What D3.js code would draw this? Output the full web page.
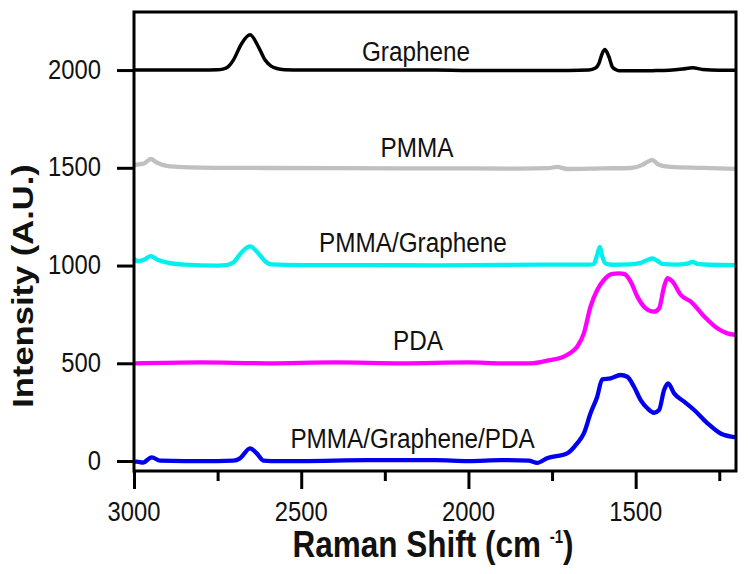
<!DOCTYPE html>
<html>
<head>
<meta charset="utf-8">
<script src="https://cdn.jsdelivr.net/npm/d3@7"></script>
<style>
  html, body { margin: 0; padding: 0; background: #fff; }
  svg { display: block; }
  text { font-family: "Liberation Sans", Arial, sans-serif; }
</style>
</head>
<body>
<svg id="chart" width="748" height="574"></svg>
<script>
// ---- data ----
const yTicks = [0, 500, 1000, 1500, 2000];
const xMajorTicks = [3000, 2500, 2000, 1500];
const xMinorTicks = [2750, 2250, 1750, 1250];

const grapheneX = [3000, 2900, 2800, 2750, 2735, 2720, 2703, 2678, 2653, 2628, 2608, 2590, 2573, 2550, 2500, 2400, 2300, 2200, 2100, 2000, 1900, 1800, 1700, 1640, 1620, 1610, 1600, 1592, 1580, 1570, 1560, 1550, 1500, 1450, 1400, 1360, 1330, 1300, 1250, 1200];
const grapheneY = [2000, 2000, 2000, 2001, 2005, 2015, 2051, 2136, 2180, 2119, 2051, 2020, 2008, 2002, 2000, 2000, 2000, 2000, 2000, 1998, 1998, 1998, 1998, 2000, 2010, 2034, 2085, 2105, 2068, 2017, 2003, 1997, 1996, 1997, 1999, 2005, 2012, 2003, 1999, 1999];

const pmmaX = [3000, 2985, 2970, 2950, 2932, 2902, 2870, 2832, 2750, 2600, 2400, 2200, 2000, 1850, 1760, 1735, 1705, 1600, 1515, 1480, 1465, 1450, 1435, 1420, 1395, 1300, 1200];
const pmmaY = [1515, 1518, 1522, 1545, 1527, 1510, 1505, 1502, 1500, 1499, 1498, 1497, 1497, 1496, 1498, 1505, 1494, 1497, 1499, 1515, 1530, 1540, 1520, 1510, 1505, 1500, 1494];

const pmmaGX = [3000, 2990, 2970, 2950, 2930, 2900, 2850, 2750, 2720, 2703, 2678, 2653, 2628, 2608, 2590, 2500, 2300, 2100, 1900, 1700, 1640, 1625, 1615, 1607, 1600, 1590, 1570, 1520, 1485, 1465, 1450, 1435, 1420, 1380, 1345, 1330, 1315, 1280, 1200];
const pmmaGY = [1035, 1022, 1030, 1048, 1030, 1015, 1005, 1000, 1004, 1015, 1068, 1098, 1062, 1022, 1006, 1002, 1002, 1001, 1003, 1005, 1005, 1008, 1056, 1095, 1048, 1010, 1004, 1006, 1014, 1028, 1036, 1024, 1008, 1005, 1010, 1019, 1008, 1004, 1002];

const pdaX = [3000, 2800, 2600, 2400, 2200, 2000, 1900, 1814, 1760, 1715, 1690, 1675, 1655, 1635, 1615, 1595, 1570, 1550, 1535, 1515, 1495, 1470, 1445, 1430, 1415, 1405, 1390, 1365, 1335, 1295, 1256, 1226, 1200];
const pdaY = [500, 505, 500, 505, 500, 505, 500, 500, 515, 534, 560, 585, 653, 790, 875, 926, 957, 960, 957, 918, 841, 781, 764, 781, 892, 935, 918, 850, 815, 739, 679, 653, 645];

const allX = [3000, 2992, 2973, 2947, 2922, 2850, 2750, 2703, 2683, 2653, 2633, 2613, 2590, 2500, 2300, 2100, 2000, 1900, 1820, 1794, 1765, 1705, 1675, 1655, 1635, 1615, 1600, 1575, 1545, 1525, 1505, 1485, 1465, 1445, 1430, 1415, 1403, 1385, 1355, 1325, 1285, 1246, 1200];
const allY = [-5, -3, -8, 19, 2, 0, 0, 2, 14, 65, 39, 2, 0, 0, 5, 5, 0, 5, 2, -9, 14, 39, 90, 141, 244, 329, 418, 423, 440, 431, 380, 312, 270, 247, 261, 363, 397, 346, 304, 261, 193, 141, 121];

const seriesNames = ["Graphene", "PMMA", "PMMA/Graphene", "PDA", "PMMA/Graphene/PDA"];
const seriesColors = ["#000000", "#c0c0c0", "#00f0f0", "#ff00ff", "#0000ee"];
// label anchors: [wavenumber, intensity]
const labelWave = [2157, 2154, 2166, 2151, 2167];
const labelValue = [2044, 1555, 1069, 568, 66];

// ---- layout ----
const svg = d3.select("#chart");
const L = 134, R = 736, T = 12, B = 471;
const SY = 1.17; // vertical stretch of all lettering in the reference
const x = d3.scaleLinear().domain([3000, 1200]).range([L, R]);
const y = d3.scaleLinear().domain([-51, 2297]).range([B, T]);

const series = [
  {x: grapheneX, y: grapheneY, w: 3.5},
  {x: pmmaX, y: pmmaY, w: 4.3},
  {x: pmmaGX, y: pmmaGY, w: 4.3},
  {x: pdaX, y: pdaY, w: 4.3},
  {x: allX, y: allY, w: 4.3}
];

const line = d3.line()
  .x(d => x(d[0])).y(d => y(d[1]))
  .curve(d3.curveMonotoneX);

svg.append("defs").append("clipPath").attr("id", "clip")
  .append("rect").attr("x", L).attr("y", T).attr("width", R - L).attr("height", B - T);

const g = svg.append("g").attr("clip-path", "url(#clip)");
series.forEach((s, i) => {
  const pts = s.x.map((xv, j) => [xv, s.y[j]]);
  g.append("path").datum(pts)
    .attr("d", line)
    .attr("fill", "none")
    .attr("stroke", seriesColors[i])
    .attr("stroke-width", s.w)
    .attr("stroke-linejoin", "round")
    .attr("stroke-linecap", "round");
});

function stretchedText(px, py, str, size, anchor, weight) {
  return svg.append("text")
    .attr("transform", `translate(${px},${py}) scale(1,${SY})`)
    .attr("text-anchor", anchor)
    .attr("font-size", size)
    .attr("font-weight", weight || "normal")
    .attr("fill", "#111")
    .text(str);
}

// series labels
seriesNames.forEach((n, i) => {
  stretchedText(x(labelWave[i]), y(labelValue[i]), n, 24.3, "middle");
});

// axes (ticks drawn by d3, labels placed with the same scales)
const yAxis = d3.axisLeft(y).tickValues(yTicks).tickSize(17).tickFormat("");
const ya = svg.append("g").attr("transform", `translate(${L},0)`).call(yAxis);
const xAxis = d3.axisBottom(x).tickValues(xMajorTicks).tickSize(18).tickFormat("");
const xa = svg.append("g").attr("transform", `translate(0,${B})`).call(xAxis);
const xAxisMinor = d3.axisBottom(x).tickValues(xMinorTicks).tickSize(10).tickFormat("");
const xm = svg.append("g").attr("transform", `translate(0,${B})`).call(xAxisMinor);

[ya, xa, xm].forEach(a => {
  a.select(".domain").remove();
  a.selectAll(".tick line").attr("stroke", "#000").attr("stroke-width", 3);
});

yTicks.forEach(v => stretchedText(101, y(v) + 8.5, String(v), 23.8, "end"));
xMajorTicks.forEach(v => stretchedText(x(v), 521, String(v), 23.8, "middle"));

// frame
svg.append("rect").attr("x", L).attr("y", T).attr("width", R - L).attr("height", B - T)
  .attr("fill", "none").attr("stroke", "#000").attr("stroke-width", 3);

// axis titles
svg.append("text")
  .attr("transform", `translate(33,286) scale(1,${SY}) rotate(-90)`)
  .attr("text-anchor", "middle")
  .attr("font-size", 29.5).attr("font-weight", "bold").attr("fill", "#111")
  .text("Intensity (A.U.)");

const xt = svg.append("text")
  .attr("transform", `translate(433,557) scale(1,${SY})`)
  .attr("text-anchor", "middle")
  .attr("font-size", 31.5).attr("font-weight", "bold").attr("fill", "#111");
xt.append("tspan").text("Raman Shift (cm\u00a0");
xt.append("tspan").attr("font-size", 15).attr("dy", -12).text("-1");
xt.append("tspan").attr("dy", 12).text(")");
</script>
</body>
</html>
